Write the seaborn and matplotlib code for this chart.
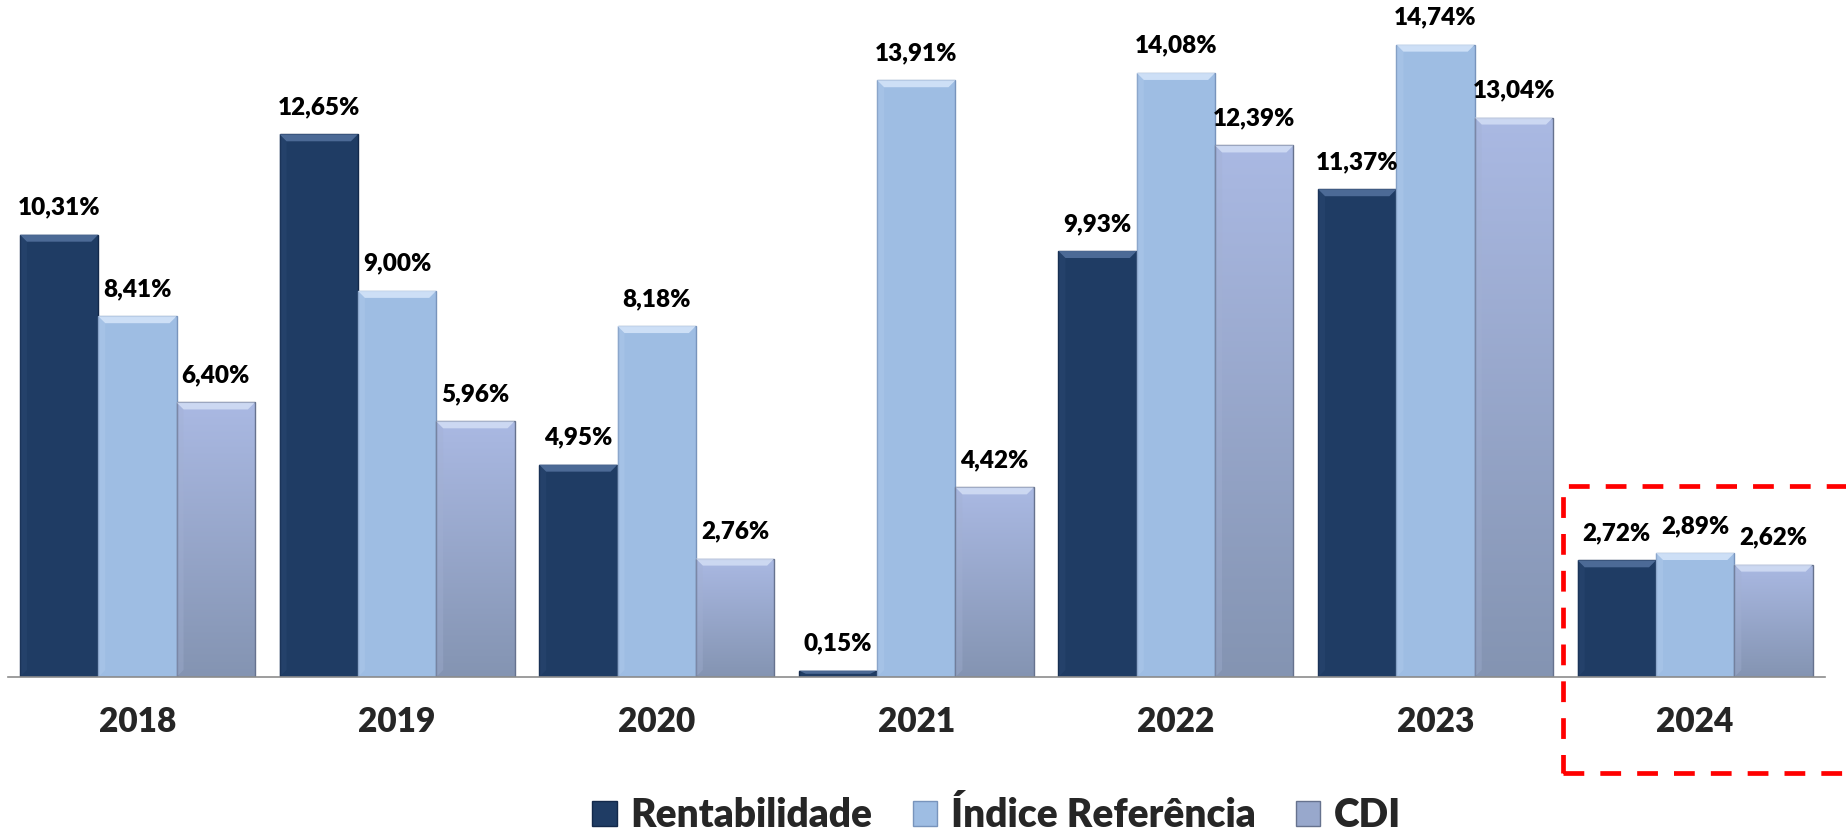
import numpy as np
import pandas as pd
import matplotlib
matplotlib.use("Agg")
import matplotlib.pyplot as plt
from matplotlib.patches import Rectangle, Polygon, Patch
from matplotlib.colors import LinearSegmentedColormap
import seaborn as sns

# ---- data ----
anos = ["2018", "2019", "2020", "2021", "2022", "2023", "2024"]
series = ["Rentabilidade", "Índice Referência", "CDI"]
rentabilidade = [10.31, 12.65, 4.95, 0.15, 9.93, 11.37, 2.72]
indice_ref = [8.41, 9.00, 8.18, 13.91, 14.08, 14.74, 2.89]
cdi = [6.40, 5.96, 2.76, 4.42, 12.39, 13.04, 2.62]

df = pd.DataFrame({
    "Ano": anos * 3,
    "Serie": [series[0]] * 7 + [series[1]] * 7 + [series[2]] * 7,
    "Valor": rentabilidade + indice_ref + cdi,
})

# ---- style ----
sns.set_style("white")
plt.rcParams["font.family"] = ["Lato", "DejaVu Sans"]
W = "heavy"

c_dark = "#1F3C64"
c_light = "#9EBDE3"
c_cdi = "#98A8CC"
cdi_top = "#AAB9E3"
cdi_bot = "#8494B2"
edges = {"Rentabilidade": "#12284A", "Índice Referência": "#7894BC", "CDI": "#66728E"}

fig = plt.figure(figsize=(18.46, 8.36), dpi=100)
ax = fig.add_axes([7.6 / 1846, 1 - 677 / 836, (1825 - 7.6) / 1846, 677 / 836])

sns.barplot(data=df, x="Ano", y="Valor", hue="Serie", order=anos, hue_order=series,
            palette=[c_dark, c_light, c_cdi], saturation=1, width=0.905, gap=0,
            legend=False, ax=ax, zorder=2)

ax.set_ylim(0, 15.78)
ax.set_xlim(-0.5, 6.5)

px_per_y = 677 / 15.78
px_per_x = (1825 - 7.6) / 7.0

cmap_cdi = LinearSegmentedColormap.from_list("cdi", [cdi_bot, cdi_top])
grad = np.linspace(0, 1, 256).reshape(-1, 1)

patches = list(ax.patches)
for i, p in enumerate(patches):
    s = series[i // 7]
    x0 = p.get_x()
    w = p.get_width()
    h = p.get_height()
    p.set_edgecolor(edges[s])
    p.set_linewidth(1.0)
    if s == "CDI":
        im = ax.imshow(grad, extent=[x0, x0 + w, 0, h], origin="lower", cmap=cmap_cdi,
                       aspect="auto", zorder=1.9, interpolation="bilinear")
        im.set_clip_path(p)
        p.set_facecolor("none")
    dy = min(7 / px_per_y, h / 2)
    dx = 7 / px_per_x
    top_col = {"Rentabilidade": "#5573A0", "Índice Referência": "#D6E6FA", "CDI": "#D3DEF5"}[s]
    ax.add_patch(Polygon([(x0, h), (x0 + w, h), (x0 + w - dx, h - dy), (x0 + dx, h - dy)],
                         closed=True, facecolor=top_col, edgecolor="none", alpha=0.85, zorder=2.5))
    side_col = {"Rentabilidade": "#2E4C76", "Índice Referência": "#B4CDEC", "CDI": "#A3B1D3"}[s]
    if h > 2 * dy:
        ax.add_patch(Polygon([(x0, h), (x0 + dx, h - dy), (x0 + dx, dy), (x0, 0)],
                             closed=True, facecolor=side_col, edgecolor="none", alpha=0.35, zorder=2.4))
    lbl = f"{h:.2f}".replace(".", ",") + "%"
    ax.annotate(lbl, (x0 + w / 2, h), xytext=(0, 14.5), textcoords="offset points",
                ha="center", va="baseline", fontsize=17.5, fontweight=W, color="black")

for sp in ["left", "top", "right"]:
    ax.spines[sp].set_visible(False)
ax.spines["bottom"].set_color("#8C8C8C")
ax.spines["bottom"].set_linewidth(1.2)
ax.set_yticks([])
ax.set_xlabel("")
ax.set_ylabel("")
ax.set_xticks(range(7))
ax.set_xticklabels(anos, fontsize=24, fontweight=W)
ax.tick_params(axis="x", which="major", length=0, pad=21)
ax.set_xticks(np.arange(-0.5, 7.0, 1.0), minor=True)
ax.tick_params(axis="x", which="minor", length=8.6, width=1.2, color="#8C8C8C", direction="out")

handles = [Patch(facecolor=c_dark, edgecolor=edges["Rentabilidade"]),
           Patch(facecolor=c_light, edgecolor=edges["Índice Referência"]),
           Patch(facecolor=c_cdi, edgecolor=edges["CDI"])]
fig.legend(handles, series, loc="center", bbox_to_anchor=(0.540, 0.024), ncol=3,
           frameon=False, prop={"weight": W, "size": 28},
           handlelength=0.62, handleheight=0.62, handletextpad=0.35,
           columnspacing=1.05, borderpad=0)

fig.patches.append(Rectangle((1563 / 1846, 1 - 773 / 836), 0.2, (773 - 486) / 836,
                             transform=fig.transFigure, fill=False, edgecolor="#FF0000",
                             linewidth=3.4, linestyle=(0, (4.4, 3.4)), clip_on=False,
                             zorder=10))

fig.savefig("out.png", dpi=100)
